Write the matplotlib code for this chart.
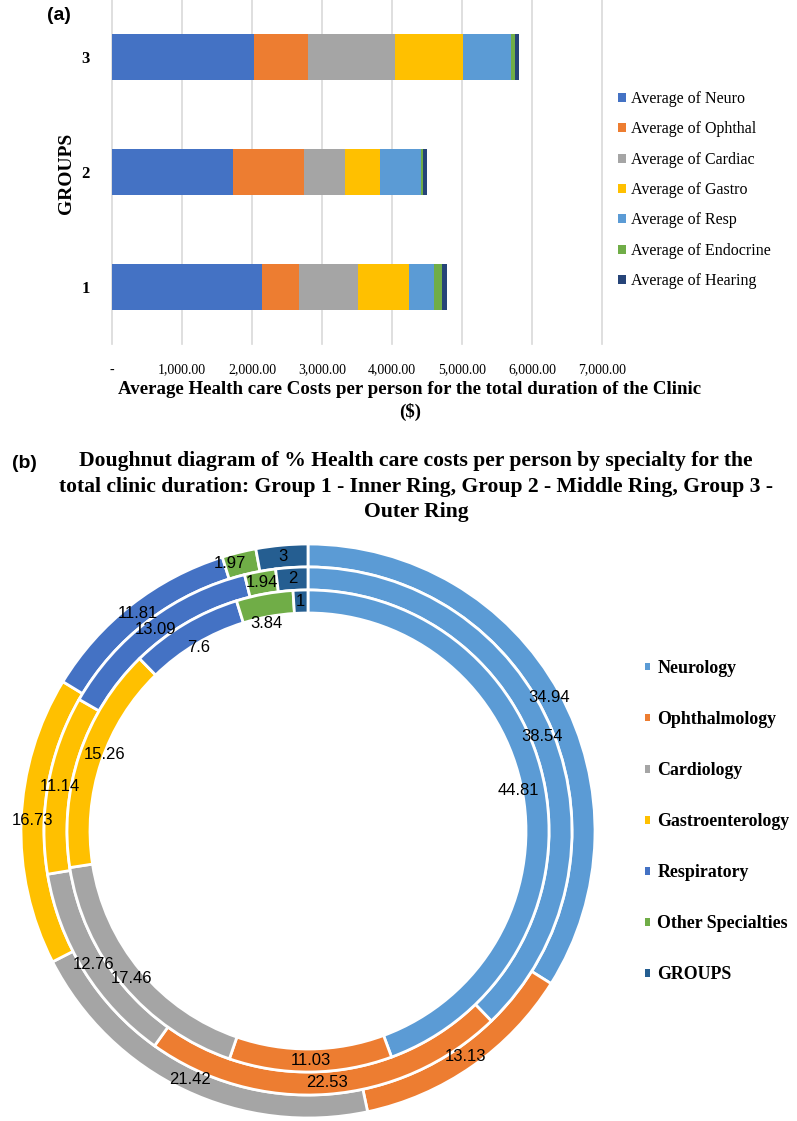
import matplotlib
matplotlib.use("Agg")
import matplotlib.pyplot as plt
from matplotlib.patches import Patch
import numpy as np

plt.rcParams["font.family"] = ["Liberation Serif", "DejaVu Serif"]

# (a) stacked bars, average cost per person ($)
groups = ["1", "2", "3"]
bar_series = ["Average of Neuro", "Average of Ophthal", "Average of Cardiac",
              "Average of Gastro", "Average of Resp", "Average of Endocrine",
              "Average of Hearing"]
neuro = [2145, 1734, 2031]
ophthal = [528, 1014, 763]
cardiac = [836, 574, 1245]
gastro = [730, 501, 973]
resp = [364, 589, 687]
endocrine = [105, 36, 55]
hearing = [79, 51, 60]
bar_colors = ["#4472C4", "#ED7D31", "#A5A5A5", "#FFC000", "#5B9BD5", "#70AD47", "#264478"]
x_ticks = [0, 1000, 2000, 3000, 4000, 5000, 6000, 7000]

# (b) doughnut, % of cost per person
specialties = ["Neurology", "Ophthalmology", "Cardiology", "Gastroenterology",
               "Respiratory", "Other Specialties", "GROUPS"]
ring1 = [44.81, 11.03, 17.46, 15.26, 7.6, 3.84, 1]
ring2 = [38.54, 22.53, 12.76, 11.14, 13.09, 1.94, 2]
ring3 = [34.94, 13.13, 21.42, 16.73, 11.81, 1.97, 3]
ring_colors = ["#5B9BD5", "#ED7D31", "#A5A5A5", "#FFC000", "#4472C4", "#70AD47", "#255E91"]

W, H = 797, 1121
fig = plt.figure(figsize=(W / 100, H / 100), dpi=100)


def box(l, t, r, b):
    return [l / W, 1 - b / H, (r - l) / W, (b - t) / H]


# ---- panel (a)
ax = fig.add_axes(box(112, 0, 602, 344))
left = [0, 0, 0]
for vals, name, c in zip([neuro, ophthal, cardiac, gastro, resp, endocrine, hearing],
                         bar_series, bar_colors):
    ax.barh(groups, vals, left=left, height=0.4, color=c, label=name, zorder=2)
    left = [a + b for a, b in zip(left, vals)]

ax.set_xlim(0, 7000)
ax.set_ylim(-0.5, 2.5)
ax.set_xticks(x_ticks)
ax.set_xticklabels(["-"] + [f"{v:,.2f}" for v in x_ticks[1:]], fontsize=10)
ax.tick_params(length=0)
ax.tick_params(axis="x", pad=14)
ax.tick_params(axis="y", pad=16, labelsize=12)
for t in ax.get_yticklabels():
    t.set_fontweight("bold")
ax.xaxis.grid(True, color="#D9D9D9", lw=1.2)
for gl in ax.get_xgridlines():
    gl.set_clip_on(False)
ax.set_axisbelow(True)
for s in ax.spines.values():
    s.set_visible(False)

fig.text(66 / W, 1 - 173 / H, "GROUPS", rotation=90, ha="center", va="center",
         fontsize=14, fontweight="bold")
fig.text(410 / W, 1 - 390 / H,
         "Average Health care Costs per person for the total duration of the Clinic",
         ha="center", va="center", fontsize=13.6, fontweight="bold")
fig.text(410 / W, 1 - 412 / H, "($)", ha="center", va="center",
         fontsize=13.6, fontweight="bold")

ax.legend(loc="upper left", bbox_to_anchor=(618 / W, 1 - 91 / H),
          bbox_transform=fig.transFigure, frameon=False, fontsize=11.5,
          borderpad=0, borderaxespad=0, handlelength=0.5, handleheight=0.5,
          handletextpad=0.3, labelspacing=0.9)

fig.text(59 / W, 1 - 15 / H, "(a)", ha="center", va="center", fontsize=14,
         fontweight="bold", family="Liberation Sans")

# ---- panel (b)
fig.text(24 / W, 1 - 463 / H, "(b)", ha="center", va="center", fontsize=14,
         fontweight="bold", family="Liberation Sans")
fig.text(416 / W, 1 - 451 / H,
         "Doughnut diagram of % Health care costs per person by specialty for the\n"
         "total clinic duration: Group 1 - Inner Ring, Group 2 - Middle Ring, Group 3 -\n"
         "Outer Ring",
         ha="center", va="top", fontsize=15.6, fontweight="bold", linespacing=1.38)

pax = fig.add_axes(box(18, 541, 598, 1121))
label_shift = {3.84: (0, -18), 1.97: (-12, 0), 44.81: (-16, 0),
               15.26: (14, 4), 7.6: (8, -14)}
for vals, r in zip([ring3, ring2, ring1], [287, 264, 241]):
    wedges, _ = pax.pie(vals, radius=r, startangle=90, counterclock=False,
                        colors=ring_colors,
                        wedgeprops=dict(width=23, edgecolor="white", linewidth=2))
    for w, v in zip(wedges, vals):
        ang = np.deg2rad((w.theta1 + w.theta2) / 2)
        rr = w.r - w.width / 2
        dx, dy = label_shift.get(v, (0, 0))
        pax.text(rr * np.cos(ang) + dx, rr * np.sin(ang) + dy, f"{v:g}",
                 ha="center", va="center", fontsize=12, family="Liberation Sans")
pax.set_xlim(-290, 290)
pax.set_ylim(-290, 290)
pax.set_aspect("equal")
pax.axis("off")

handles = [Patch(facecolor=c) for c in ring_colors]
fig.legend(handles, specialties, loc="upper left", bbox_to_anchor=(645 / W, 1 - 660 / H),
           frameon=False, prop=dict(size=12.9, weight="bold"),
           borderpad=0, borderaxespad=0, handlelength=0.29, handleheight=0.29,
           handletextpad=0.4, labelspacing=1.9)

fig.savefig("out.png", dpi=100)
